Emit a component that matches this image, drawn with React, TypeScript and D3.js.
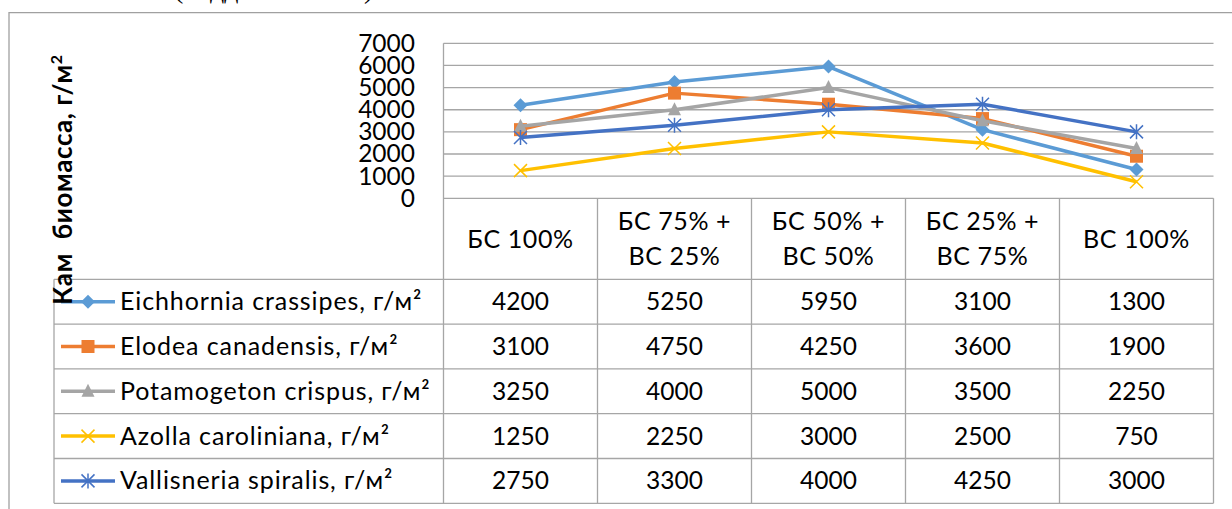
import React from "react";
import * as d3 from "d3";

const categories: string[][] = [
  ["БС 100%"],
  ["БС 75% +", "ВС 25%"],
  ["БС 50% +", "ВС 50%"],
  ["БС 25% +", "ВС 75%"],
  ["ВС 100%"],
];

const seriesNames = [
  "Eichhornia crassipes, г/м²",
  "Elodea canadensis, г/м²",
  "Potamogeton crispus, г/м²",
  "Azolla caroliniana, г/м²",
  "Vallisneria spiralis, г/м²",
];

const eichhornia = [4200, 5250, 5950, 3100, 1300];
const elodea = [3100, 4750, 4250, 3600, 1900];
const potamogeton = [3250, 4000, 5000, 3500, 2250];
const azolla = [1250, 2250, 3000, 2500, 750];
const vallisneria = [2750, 3300, 4000, 4250, 3000];

const yTicks = [0, 1000, 2000, 3000, 4000, 5000, 6000, 7000];

const colors = ["#5B9BD5", "#ED7D31", "#A5A5A5", "#FFC000", "#4472C4"];
const markers = ["diamond", "square", "triangle", "x", "star"];
const seriesValues = [eichhornia, elodea, potamogeton, azolla, vallisneria];

const FONT = "Lato, 'Open Sans', sans-serif";
const GRID = "#A6A6A6";

function Marker({ type, x, y, color }: { type: string; x: number; y: number; color: string }) {
  const s = 6.5;
  if (type === "diamond")
    return <path d={`M${x},${y - s - 0.5}L${x + s + 0.5},${y}L${x},${y + s + 0.5}L${x - s - 0.5},${y}Z`} fill={color} />;
  if (type === "square") return <rect x={x - s} y={y - s} width={2 * s} height={2 * s} fill={color} />;
  if (type === "triangle")
    return <path d={`M${x},${y - s - 1}L${x + s},${y + s - 1}L${x - s},${y + s - 1}Z`} fill={color} />;
  if (type === "x")
    return (
      <path d={`M${x - s},${y - s}L${x + s},${y + s}M${x - s},${y + s}L${x + s},${y - s}`} stroke={color} strokeWidth={1.5} fill="none" />
    );
  return (
    <path
      d={`M${x - s},${y - s}L${x + s},${y + s}M${x - s},${y + s}L${x + s},${y - s}M${x},${y - s - 1}L${x},${y + s + 1}`}
      stroke={color}
      strokeWidth={1.5}
      fill="none"
    />
  );
}

export default function App() {
  const plotLeft = 443.5;
  const plotRight = 1213.5;
  const plotTop = 43.3;
  const plotBottom = 198.3;
  const headerBottom = 279.3;
  const rowH = 44.8;
  const legendLeft = 54;

  const x = d3
    .scaleBand<number>()
    .domain(d3.range(categories.length))
    .range([plotLeft, plotRight]);
  const y = d3.scaleLinear().domain([0, 7000]).range([plotBottom, plotTop]);
  const cx = (i: number) => (x(i) as number) + x.bandwidth() / 2;

  const line = d3
    .line<number>()
    .x((_, i) => cx(i))
    .y((d) => y(d));

  const tableBottom = headerBottom + rowH * seriesNames.length;

  return (
    <svg
      width={1232}
      height={509}
      style={{ position: "absolute", left: 0, top: 0, background: "#fff" }}
      fontFamily={FONT}
    >
      {/* partial document text above (cut off) */}
      <g fontFamily="'Liberation Serif', serif" fontSize={28} fill="#000">
        <text x={174} y={-2.5}>(</text>
        <text x={210} y={-2.5}>дд</text>
        <text x={364} y={-2.5}>)</text>
      </g>
      {/* outer frame */}
      <path d={`M9,509V12.7H1232`} fill="none" stroke="#A0A0A0" strokeWidth={1.3} />

      {/* gridlines */}
      {yTicks.map((t) => (
        <line key={t} x1={plotLeft} x2={plotRight} y1={y(t)} y2={y(t)} stroke={GRID} strokeWidth={1.3} />
      ))}
      <line x1={plotLeft} x2={plotLeft} y1={plotTop} y2={tableBottom} stroke={GRID} strokeWidth={1.3} />
      {yTicks.map((t) => (
        <text key={t} x={415} y={y(t) + 8.4} textAnchor="end" fontSize={24.5} fill="#000">
          {t}
        </text>
      ))}

      {categories.map((_, i) => (
        <line
          key={i}
          x1={(x(i) as number) + x.bandwidth()}
          x2={(x(i) as number) + x.bandwidth()}
          y1={plotBottom}
          y2={tableBottom}
          stroke={GRID}
          strokeWidth={1.3}
        />
      ))}
      {d3.range(seriesNames.length + 1).map((r) => (
        <line
          key={r}
          x1={legendLeft}
          x2={plotRight}
          y1={headerBottom + r * rowH}
          y2={headerBottom + r * rowH}
          stroke={GRID}
          strokeWidth={1.3}
        />
      ))}
      <line x1={legendLeft} x2={legendLeft} y1={headerBottom} y2={tableBottom} stroke={GRID} strokeWidth={1.3} />

      {categories.map((c, i) => (
        <text key={i} textAnchor="middle" fontSize={25} letterSpacing={0.6} fill="#000">
          {c.length === 1 ? (
            <tspan x={cx(i)} y={248}>
              {c[0]}
            </tspan>
          ) : (
            c.map((s, k) => (
              <tspan key={k} x={cx(i)} y={230 + k * 35}>
                {s}
              </tspan>
            ))
          )}
        </text>
      ))}

      {seriesNames.map((name, r) => {
        const top = headerBottom + r * rowH;
        const mid = top + rowH / 2;
        return (
          <g key={name}>
            <line x1={61} x2={115} y1={mid} y2={mid} stroke={colors[r]} strokeWidth={3.5} />
            <Marker type={markers[r]} x={88} y={mid} color={colors[r]} />
            <text x={120} y={mid + 8.5} fontSize={25} letterSpacing={0.9} fill="#000">
              {name}
            </text>
            {seriesValues[r].map((v, i) => (
              <text key={i} x={cx(i)} y={mid + 8.5} textAnchor="middle" fontSize={24.5} fill="#000">
                {v}
              </text>
            ))}
          </g>
        );
      })}

      {seriesValues.map((vals, s) => (
        <g key={s}>
          <path d={line(vals) as string} fill="none" stroke={colors[s]} strokeWidth={3.5} strokeLinejoin="round" />
          {vals.map((v, i) => (
            <Marker key={i} type={markers[s]} x={cx(i)} y={y(v)} color={colors[s]} />
          ))}
        </g>
      ))}

      <text
        transform="translate(72,179.5) rotate(-90)"
        textAnchor="middle"
        fontSize={26}
        fontWeight="bold"
        letterSpacing={0.6}
        fill="#000"
      >
        {"Кам\u00A0 биомасса, г/м"}
        <tspan dy={-10} fontSize={16}>
          2
        </tspan>
      </text>
    </svg>
  );
}
